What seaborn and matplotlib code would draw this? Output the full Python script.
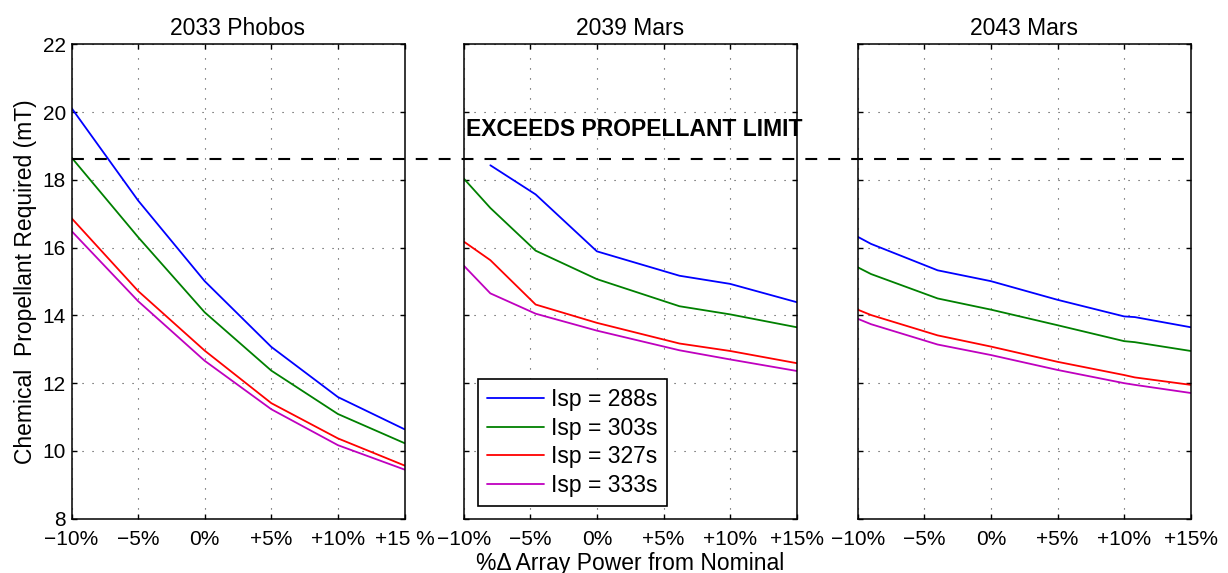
import numpy as np
import pandas as pd
import matplotlib
matplotlib.use("Agg")
import matplotlib.pyplot as plt
import matplotlib.transforms as mtransforms
from matplotlib.lines import Line2D
import seaborn as sns

# ---------------- data ----------------
panel_titles = ["2033 Phobos", "2039 Mars", "2043 Mars"]
series_labels = ["Isp = 288s", "Isp = 303s", "Isp = 327s", "Isp = 333s"]
series_colors = ["#0000ff", "#008000", "#ff0000", "#bf00bf"]

x_phobos = [-10, -5, 0, 5, 10, 15]
phobos_288 = [20.12, 17.39, 15.01, 13.07, 11.59, 10.64]
phobos_303 = [18.66, 16.31, 14.09, 12.37, 11.09, 10.23]
phobos_327 = [16.87, 14.72, 12.96, 11.41, 10.37, 9.57]
phobos_333 = [16.49, 14.42, 12.66, 11.23, 10.17, 9.45]

x_mars39 = [-10, -8, -4.6, 0, 6.2, 10, 15]
mars39_288 = [np.nan, 18.43, 17.57, 15.89, 15.17, 14.93, 14.39]
mars39_303 = [18.04, 17.17, 15.91, 15.07, 14.27, 14.03, 13.65]
mars39_327 = [16.18, 15.63, 14.32, 13.78, 13.17, 12.95, 12.59]
mars39_333 = [15.47, 14.65, 14.05, 13.55, 12.97, 12.70, 12.36]

x_mars43 = [-10, -9, -4, 0, 5, 10, 10.8, 15]
mars43_288 = [16.32, 16.11, 15.33, 15.01, 14.46, 13.97, 13.95, 13.65]
mars43_303 = [15.42, 15.22, 14.50, 14.17, 13.71, 13.24, 13.21, 12.95]
mars43_327 = [14.17, 14.01, 13.41, 13.08, 12.63, 12.24, 12.17, 11.95]
mars43_333 = [13.90, 13.74, 13.14, 12.83, 12.39, 12.00, 11.95, 11.71]

propellant_limit = 18.62
limit_text = "EXCEEDS PROPELLANT LIMIT"

x_ticks = [-10, -5, 0, 5, 10, 15]
x_ticklabels_first = ["\u221210%", "\u22125%", "0%", "+5%", "+10%", "+15 %"]
x_ticklabels_other = ["\u221210%", "\u22125%", "0%", "+5%", "+10%", "+15%"]
y_ticks = [8, 10, 12, 14, 16, 18, 20, 22]
y_label = "Chemical  Propellant Required (mT)"
x_label = "%\u0394 Array Power from Nominal"

panels = [
    (x_phobos, [phobos_288, phobos_303, phobos_327, phobos_333]),
    (x_mars39, [mars39_288, mars39_303, mars39_327, mars39_333]),
    (x_mars43, [mars43_288, mars43_303, mars43_327, mars43_333]),
]


def panel_frame(xs, ys_list):
    rows = []
    for lab, ys in zip(series_labels, ys_list):
        for x, y in zip(xs, ys):
            if not np.isnan(y):
                rows.append({"x": x, "y": y, "series": lab})
    return pd.DataFrame(rows)


# ---------------- style ----------------
sns.set_theme(style="ticks")
plt.rcParams["font.family"] = ["Liberation Sans", "DejaVu Sans"]
plt.rcParams["axes.unicode_minus"] = True
plt.rcParams["text.color"] = "black"
plt.rcParams["axes.labelcolor"] = "black"
plt.rcParams["xtick.color"] = "black"
plt.rcParams["ytick.color"] = "black"

W, H = 1228, 573
fig = plt.figure(figsize=(W / 100, H / 100), dpi=100)
fig.patch.set_facecolor("white")

lefts_px = [71.5, 463.7, 857.7]
width_px = 333.0
top_px, bottom_px = 44.3, 518.7

axes = []
for i, (xs, ys_list) in enumerate(panels):
    ax = fig.add_axes([lefts_px[i] / W, (H - bottom_px) / H,
                       width_px / W, (bottom_px - top_px) / H])
    axes.append(ax)
    df = panel_frame(xs, ys_list)
    sns.lineplot(data=df, x="x", y="y", hue="series", hue_order=series_labels,
                 palette=series_colors, estimator=None, sort=False,
                 linewidth=1.3, ax=ax, legend=(i == 1))
    ax.set_xlim(-10, 15)
    ax.set_ylim(8, 22)
    ax.set_xticks(x_ticks)
    ax.set_xticklabels(x_ticklabels_first if i == 0 else x_ticklabels_other)
    ax.set_yticks(y_ticks)
    ax.set_xlabel("")
    ax.set_ylabel("")
    ax.grid(True, color="0.25", linestyle=(0, (1, 8)), linewidth=0.8)
    ax.tick_params(direction="in", length=3.6, width=1.0, top=True, right=True,
                   labelsize=15, colors="black")
    ax.tick_params(axis="x", pad=8)
    ax.tick_params(axis="y", pad=4)
    if i > 0:
        ax.tick_params(labelleft=False)
    for sp in ax.spines.values():
        sp.set_visible(True)
        sp.set_color("black")
        sp.set_linewidth(1.1)
    ax.set_title(panel_titles[i], fontsize=16.5, pad=7, color="black")
    ax.set_facecolor("white")

axes[0].set_ylabel(y_label, fontsize=16.5, labelpad=4, color="black")
axes[1].set_xlabel(x_label, fontsize=16.5, labelpad=2, color="black")

# legend in middle panel
handles, labels = axes[1].get_legend_handles_labels()
leg = axes[1].legend(handles, labels, loc="lower left", bbox_to_anchor=(0.042, 0.026),
                     borderaxespad=0, fontsize=16.5, frameon=True, fancybox=False,
                     framealpha=1, edgecolor="black", handlelength=2.5,
                     handletextpad=0.3, labelspacing=0.25, borderpad=0.4)
leg.get_frame().set_linewidth(1.2)
for t in leg.get_texts():
    t.set_color("black")

# propellant limit line spanning all panels
trans = mtransforms.blended_transform_factory(fig.transFigure, axes[0].transData)
fig.add_artist(Line2D([71.5 / W, 1185 / W], [propellant_limit, propellant_limit],
                      transform=trans, color="black", linewidth=1.5,
                      linestyle=(0, (5.7, 5.3))))

axes[1].text(-9.85, 19.48, limit_text, fontsize=16.5, fontweight="bold",
             ha="left", va="center", clip_on=False, color="black")

fig.savefig("out.png", dpi=100)
